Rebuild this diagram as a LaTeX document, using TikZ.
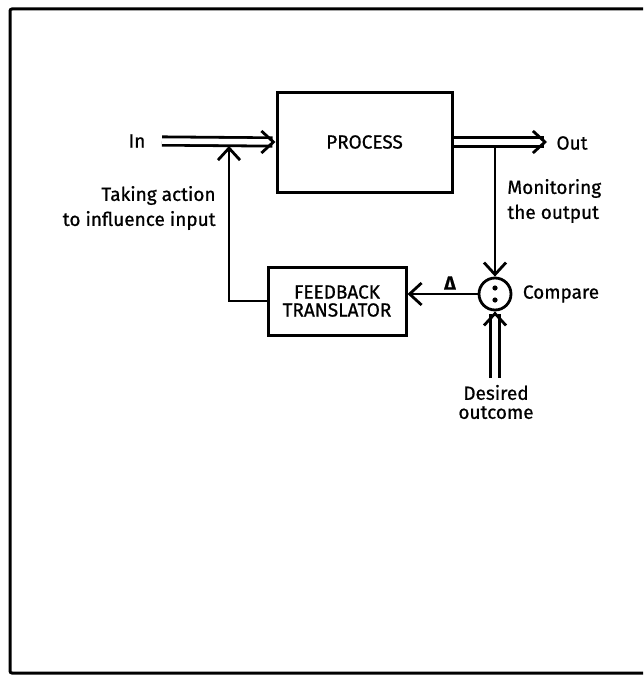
\documentclass[tikz,border=0pt]{standalone}
\usepackage{fontspec}
\setmainfont{Fira Sans}[FakeBold=0.8]
\usetikzlibrary{arrows.meta,calc}
\begin{document}
\begin{tikzpicture}[x=1pt,y=-1pt,
  line width=2.8pt,
  lbl/.style={font=\fontsize{19}{25}\selectfont, inner sep=0pt},
  boxnode/.style={draw, line width=3pt, rectangle, inner sep=0pt,
    font=\fontsize{19}{18}\selectfont, align=center},
  tip/.style={-{Straight Barb[length=12pt,width=22pt]}},
  dbl/.style={double, double distance=5.5pt, line width=2.8pt},
]
\useasboundingbox (0,0) rectangle (643,677);
% frame
\draw[line width=3pt, rounded corners=2pt] (643,9) -- (10,9) -- (10,673) -- (643,673);

% blocks
\node[boxnode, minimum width=175pt, minimum height=100pt] (process) at (364.5,142) {PROCESS};
\node[boxnode, minimum width=138pt, minimum height=68pt] (feedback) at (337,301) {FEEDBACK\\TRANSLATOR};
\node[draw, circle, minimum size=32pt, inner sep=0pt, line width=2.8pt] (cmp) at (495,294) {};
\fill (495,288) circle (2.6);
\fill (495,300) circle (2.6);

% labels
\node[lbl] (in) at (137,141) {In};
\node[lbl] (out) at (572,143) {Out};
\node[lbl, anchor=west, align=left] (mon) at (506,201) {Monitoring\\the output};
\node[lbl, anchor=east, align=right] (take) at (217,208) {Taking action\\to influence input};
\node[lbl] (cmpl) at (561,294) {Compare};
\node[lbl] (delta) at (450,283) {\bfseries Δ};
\node[lbl, align=center, font=\fontsize{19}{19}\selectfont] (des) at (496,402) {Desired\\outcome};

% connectors
\coordinate (inS) at (162,141);
\draw[dbl, shorten >=3pt] (inS) -- (process.west);
\draw[tip] ($(process.west)+(-2,0)$) -- (process.west);

\coordinate (fbTop) at (229,146);
\draw[tip] (feedback.west) -| (fbTop);

\coordinate (outT) at (547,142);
\draw[dbl, shorten >=3pt] (process.east) -- (outT);
\draw[tip] ($(outT)+(-2,0)$) -- (outT);

\coordinate (monTop) at (495,147);
\draw[tip] (monTop) -- (cmp.north);

\draw[tip] (cmp.west) -- (cmp.west -| feedback.east);

\coordinate (desB) at (495,378);
\draw[dbl, shorten >=3pt] (desB) -- (cmp.south);
\draw[tip] ($(cmp.south)+(0,2)$) -- (cmp.south);
\end{tikzpicture}
\end{document}
